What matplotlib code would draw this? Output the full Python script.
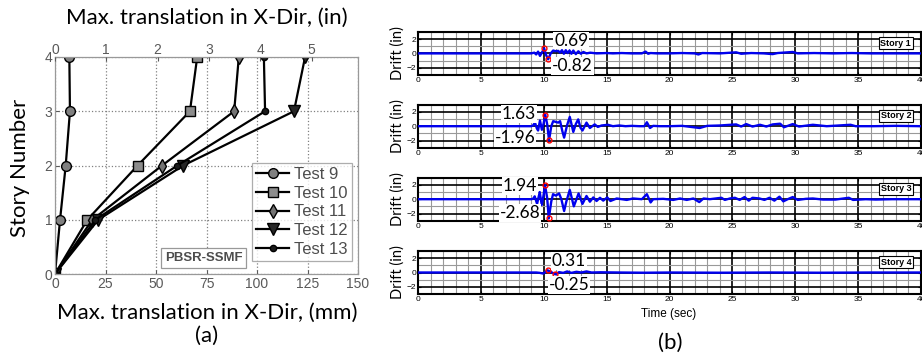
import matplotlib
matplotlib.use('Agg')
import matplotlib.pyplot as plt

# ---- panel (a): max translation per story
stories = [0, 1, 2, 3, 4]
test9 = [0, 2.5, 5.3, 7.4, 7.1]
test10 = [0, 16.0, 40.9, 66.8, 70.4]
test11 = [0, 18.5, 53.0, 88.7, 91.0]
test12 = [0, 21.4, 63.5, 118.3, 123.8]
test13 = [0, 20.0, 60.6, 104.0, 103.4]
test_names = ['Test 9', 'Test 10', 'Test 11', 'Test 12', 'Test 13']
mm_ticks = [0, 25, 50, 75, 100, 125, 150]
in_ticks = [0, 1, 2, 3, 4, 5]

# ---- panel (b): drift time histories (sec, in)
t1 = [0, 9.0, 9.25, 9.4, 9.55, 9.7, 9.85, 10.03, 10.18, 10.35, 10.55, 10.75, 10.95,
      11.15, 11.3, 11.45, 11.6, 11.75, 11.9, 12.05, 12.2, 12.35, 12.55, 12.75, 12.95,
      13.15, 13.4, 13.7, 14.2, 15.0, 15.5, 16.2, 17.0, 17.8, 18.1, 18.3, 18.5, 19.0,
      20.0, 21.0, 22.0, 22.3, 22.6, 24.0, 25.3, 25.7, 26.5, 27.5, 28.2, 28.6, 29.8,
      30.2, 31.5, 33.0, 34.5, 36.0, 38.0, 40.0]
d1 = [0, 0, 0.1, -0.15, 0.25, -0.35, 0.1, 0.69, -0.2, -0.82, 0.0, 0.4, 0.3,
      0.35, 0.1, 0.45, -0.05, 0.45, 0.05, 0.4, -0.05, 0.4, -0.1, 0.3, -0.05,
      0.2, 0.0, 0.1, 0.0, 0.05, 0.0, 0.05, 0.0, 0.0, 0.25, -0.05, 0.05, 0.0,
      0.0, 0.05, 0.0, -0.15, 0.05, 0.0, 0.15, -0.05, 0.05, 0.0, -0.1, 0.05, 0.2,
      0.0, 0.05, 0.0, 0.05, 0.0, 0.0, 0.0]

t2 = [0, 9.0, 9.15, 9.3, 9.45, 9.55, 9.7, 9.85, 9.98, 10.12, 10.28, 10.42, 10.6, 10.75,
      10.95, 11.15, 11.3, 11.48, 11.62, 11.85, 12.07, 12.35, 12.55, 12.74, 12.92, 13.08,
      13.4, 13.67, 14.05, 14.3, 14.6, 15.1, 15.5, 16.0, 16.5, 17.0, 17.6, 18.0, 18.2,
      18.45, 18.7, 19.2, 20.0, 21.0, 22.4, 23.0, 24.0, 25.3, 25.7, 26.1, 26.6, 27.2,
      27.7, 28.2, 28.8, 29.1, 29.8, 30.3, 31.4, 32.5, 34.4, 34.8, 36.2, 38.0, 40.0]
d2 = [0, 0, 0.1, 0.5, -0.3, -0.6, 0.8, -0.5, 0.3, 1.63, 0.2, -1.96, 0.0, 0.7,
      0.6, 0.5, 0.7, -0.7, -1.6, 0.1, 1.3, -0.8, 0.3, 0.95, -0.2, -0.6,
      0.5, -0.25, 0.25, -0.1, 0.1, 0.2, 0.0, 0.1, 0.0, 0.05, 0.0, 0.0, 0.55,
      -0.25, 0.05, 0.0, 0.0, 0.05, -0.25, 0.05, 0.1, 0.25, -0.05, 0.3, -0.05, 0.2,
      -0.05, 0.25, 0.35, -0.15, 0.3, -0.05, 0.2, 0.0, 0.2, 0.0, 0.0, 0.05, 0.0]

t3 = [0, 9.0, 9.15, 9.28, 9.47, 9.68, 9.84, 9.97, 10.1, 10.27, 10.4, 10.6, 10.74, 10.96,
      11.22, 11.4, 11.62, 11.8, 12.07, 12.39, 12.77, 13.08, 13.4, 13.67, 13.94, 14.2,
      14.47, 14.73, 15.05, 15.3, 15.8, 16.6, 17.1, 17.8, 18.2, 18.5, 18.7, 19.5, 20.3,
      20.84, 21.37, 21.9, 22.37, 22.7, 23.2, 24.13, 24.4, 24.8, 25.2, 25.58, 25.97,
      26.3, 26.6, 27.16, 27.55, 27.95, 28.34, 28.74, 29.05, 29.4, 29.8, 30.2, 30.84,
      31.4, 32.2, 33.2, 34.26, 34.6, 35.6, 36.4, 37.7, 40.0]
d3 = [0, 0, 0.05, 0.4, -0.65, 1.0, -0.8, 0.4, 1.94, 0.2, -2.68, -0.3, 0.7, 0.5,
      0.8, 0.0, -1.65, -0.3, 1.3, -1.0, 0.8, -0.65, 0.45, -0.35, 0.25, -0.25,
      0.2, -0.2, 0.25, -0.25, 0.1, -0.1, 0.1, 0.0, 0.7, -0.45, 0.0, 0.05, -0.1,
      0.1, -0.1, 0.1, -0.4, 0.1, 0.0, 0.2, -0.1, 0.1, 0.2, -0.1, 0.3,
      -0.2, 0.2, 0.1, -0.1, 0.2, -0.2, 0.35, -0.3, 0.0, 0.3, -0.1, 0.05,
      0.1, -0.05, -0.05, 0.2, -0.1, 0.0, -0.05, 0.0, 0.0]

t4 = [0, 9.4, 9.68, 9.95, 10.3, 10.6, 10.93, 11.22, 11.55, 11.86, 12.2, 12.6, 13.0,
      13.4, 13.8, 14.5, 16.0, 18.0, 20.0, 24.0, 28.0, 32.0, 36.0, 40.0]
d4 = [0, 0, -0.05, -0.15, 0.31, 0.05, -0.25, 0.05, -0.05, 0.15, -0.05, 0.1, 0.0,
      0.15, 0.0, 0.03, 0.0, -0.03, 0.0, -0.03, 0.0, -0.03, 0.0, 0.0]

peak_t = [(10.03, 10.35), (10.12, 10.42), (10.1, 10.4), (10.3, 10.93)]
peak_d = [(0.69, -0.82), (1.63, -1.96), (1.94, -2.68), (0.31, -0.25)]
peak_lbl = [('0.69', '-0.82'), ('1.63', '-1.96'), ('1.94', '-2.68'), ('0.31', '-0.25')]
story_lbl = ['Story 1', 'Story 2', 'Story 3', 'Story 4']

W, H = 922, 359
fig = plt.figure(figsize=(W / 100, H / 100), dpi=100)
calib = ['Lato', 'DejaVu Sans']
arial = ['Liberation Sans', 'DejaVu Sans']

# ---------------- (a)
axA = fig.add_axes([55 / W, 1 - 274 / H, 303 / W, 217 / H])
styles = [dict(marker='o', ms=7, mfc='0.5'),
          dict(marker='s', ms=6.5, mfc='0.55'),
          dict(marker='d', ms=7, mfc='0.45'),
          dict(marker='v', ms=8, mfc='0.15'),
          dict(marker='o', ms=4.5, mfc='0.1')]
for xs, name, st in zip([test9, test10, test11, test12, test13], test_names, styles):
    axA.plot(xs, stories, color='k', lw=1.6, mec='k', mew=1.0, label=name, **st)
axA.set_xlim(0, 150)
axA.set_ylim(0, 4)
axA.set_xticks(mm_ticks)
axA.set_yticks(stories)
axA.grid(True, ls=':', color='0.5', lw=0.9)
axA.tick_params(direction='in', length=3, labelsize=10, pad=2, colors='0.35')
for lab in axA.get_xticklabels() + axA.get_yticklabels():
    lab.set_family(arial)
for sp in axA.spines.values():
    sp.set_color('0.6')
    sp.set_linewidth(0.9)

axT = axA.twiny()
axT.set_xlim(0, 150 / 25.4)
axT.set_xticks(in_ticks)
axT.tick_params(direction='in', length=3, labelsize=10, pad=0, colors='0.35')
for lab in axT.get_xticklabels():
    lab.set_family(arial)
for sp in axT.spines.values():
    sp.set_visible(False)

leg = axA.legend(loc='upper right', bbox_to_anchor=(352 / W, 1 - 163 / H),
                 bbox_transform=fig.transFigure, borderaxespad=0, fancybox=False,
                 edgecolor='0.6', handlelength=2.0, handletextpad=0.3,
                 labelspacing=0.22, borderpad=0.25, prop={'family': arial, 'size': 12})
for txt in leg.get_texts():
    txt.set_color('0.3')
leg.get_frame().set_linewidth(0.9)

axA.text(73.5, 0.3, 'PBSR-SSMF', fontsize=9.5, fontweight='bold', family=arial,
         color='0.3', ha='center', va='center',
         bbox=dict(boxstyle='square,pad=0.3', fc='white', ec='0.6', lw=0.9))

fig.text(207 / W, 1 - 18 / H, 'Max. translation in X-Dir, (in)', fontsize=16,
         family=calib, ha='center', va='center')
fig.text(207 / W, 1 - 313 / H, 'Max. translation in X-Dir, (mm)', fontsize=16,
         family=calib, ha='center', va='center')
fig.text(207 / W, 1 - 336 / H, '(a)', fontsize=16, family=calib, ha='center', va='center')
fig.text(20 / W, 1 - 168 / H, 'Story Number', fontsize=16, family=calib,
         ha='center', va='center', rotation=90)

# ---------------- (b)
series = [(t1, d1), (t2, d2), (t3, d3), (t4, d4)]
bottoms = [74.9, 147.7, 220.7, 294.0]
txt_pos = [((12.2, 1.8), (12.3, -1.8)), ((8.0, 1.75), (7.7, -1.7)),
           ((8.1, 1.85), (8.1, -1.95)), ((12.0, 1.6), (12.0, -1.75))]
for i, (tt, dd) in enumerate(series):
    ax = fig.add_axes([418 / W, 1 - bottoms[i] / H, 503 / W, 43 / H])
    ax.set_axisbelow(True)
    ax.plot(tt, dd, color='#0000ee', lw=1.7, zorder=3)
    ax.plot(peak_t[i], peak_d[i], 'o', ms=3.5, mfc='none', mec='red', mew=1.0, zorder=4)
    ax.set_xlim(0, 40)
    ax.set_ylim(-3, 3)
    ax.set_xticks(range(0, 41, 5))
    ax.set_xticks(range(0, 41), minor=True)
    ax.set_yticks([-2, 0, 2])
    ax.set_yticks([-3, -1, 1, 3], minor=True)
    ax.grid(which='major', color='k', lw=1.2)
    ax.grid(which='minor', color='0.6', lw=0.8)
    ax.tick_params(which='both', direction='in', length=2, labelsize=6, pad=1.5,
                   top=True, right=True)
    ax.tick_params(which='minor', length=0)
    for lab in ax.get_xticklabels() + ax.get_yticklabels():
        lab.set_family(arial)
    for sp in ax.spines.values():
        sp.set_linewidth(1.5)
    ax.set_ylabel('Drift (in)', fontsize=10.5, family=calib, labelpad=1)
    (px, py), (nx, ny) = txt_pos[i]
    ax.text(px, py, peak_lbl[i][0], fontsize=12.5, family=calib, ha='center', va='center',
            zorder=5, bbox=dict(boxstyle='square,pad=0.05', fc='white', ec='none'))
    ax.text(nx, ny, peak_lbl[i][1], fontsize=12.5, family=calib, ha='center', va='center',
            zorder=5, bbox=dict(boxstyle='square,pad=0.05', fc='white', ec='none'))
    ax.text(38.0, 1.45, story_lbl[i], fontsize=6.5, fontweight='bold', family=arial,
            ha='center', va='center', zorder=5,
            bbox=dict(boxstyle='square,pad=0.15', fc='white', ec='k', lw=0.8))

fig.text(669 / W, 1 - 314 / H, 'Time (sec)', fontsize=8.5, family=arial,
         ha='center', va='center')
fig.text(670 / W, 1 - 343 / H, '(b)', fontsize=16, family=calib, ha='center', va='center')

fig.savefig('out.png', dpi=100)
